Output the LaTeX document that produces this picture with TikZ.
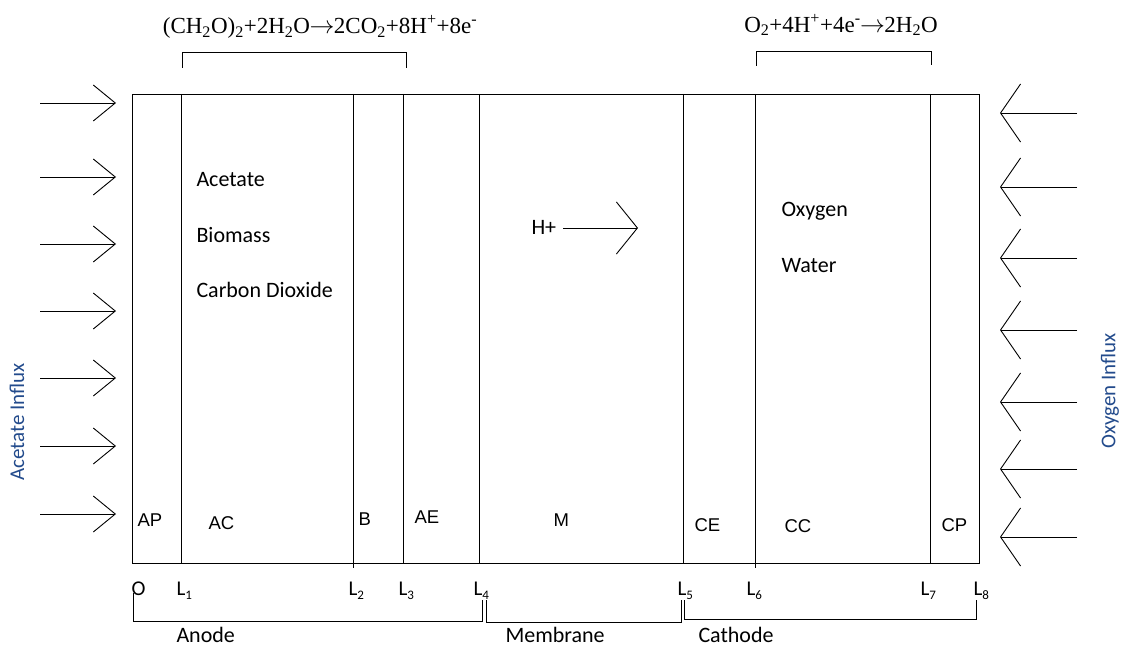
\documentclass[tikz,border=0pt]{standalone}
\usepackage{fontspec}
\setmainfont{Carlito}
\newfontfamily\arialf{Liberation Sans}
\newfontfamily\timesf{Liberation Serif}
\usetikzlibrary{arrows.meta}
\definecolor{influx}{RGB}{35,75,140}
\newcommand{\Lsub}[1]{L\raisebox{-0.4ex}{\fontsize{13}{13}\selectfont #1}}
\newcommand{\rxarrow}{\kern-0.5pt$\rightarrow$\kern-0.5pt}
\begin{document}
\begin{tikzpicture}[x=1pt,y=-1pt,line width=1pt,
  txt/.style={font=\fontsize{22}{22}\selectfont,anchor=base west,inner sep=0pt},
  reg/.style={font=\arialf\fontsize{18.5}{18.5}\selectfont,anchor=base west,inner sep=0pt},
  llab/.style={font=\fontsize{21}{21}\selectfont,anchor=base west,inner sep=0pt},
  eqn/.style={font=\timesf\fontsize{23}{23}\selectfont,inner sep=0pt},
  side/.style={font=\fontsize{21}{21}\selectfont,text=influx,rotate=90,inner sep=0pt},
  inleft/.style={-{Straight Barb[length=22pt,width=36pt,line width=0.9pt]},line width=0.9pt},
  inright/.style={-{Straight Barb[length=20pt,width=58pt,line width=0.9pt]},line width=0.9pt},
  hplus/.style={-{Straight Barb[length=21pt,width=52pt,line width=0.9pt]},line width=0.9pt},
  bracket/.style={line width=0.9pt}]
\useasboundingbox (0,0) rectangle (1121,647);

% cell box and layers
\node[draw,inner sep=0pt,minimum width=847pt,minimum height=469pt,anchor=north west] (box) at (132,94) {};
\foreach \x/\b in {181/563,353/568,403/563,479/563,683/563,755/568,930/563}
  \draw (\x,94) -- (\x,\b);

% reactions
\node[eqn] (eqa) at (320,27) {(CH\textsubscript{2}O)\textsubscript{2}+2H\textsubscript{2}O\rxarrow 2CO\textsubscript{2}+8H\textsuperscript{+}+8e\textsuperscript{-}};
\node[eqn] (eqc) at (841,25) {O\textsubscript{2}+4H\textsuperscript{+}+4e\textsuperscript{-}\rxarrow 2H\textsubscript{2}O};
\coordinate (ba1) at (182,68); \coordinate (ba2) at (182,52); \coordinate (ba3) at (406,52); \coordinate (ba4) at (406,68);
\draw[bracket] (ba1) -- (ba2) -- (ba3) -- (ba4);
\coordinate (bc1) at (756,66); \coordinate (bc2) at (756,51); \coordinate (bc3) at (931,51); \coordinate (bc4) at (931,65);
\draw[bracket] (bc1) -- (bc2) -- (bc3) -- (bc4);

% species
\node[txt] (ace) at (196,187) {Acetate};
\node[txt] (bio) at (196,242) {Biomass};
\node[txt] (co2) at (196,297) {Carbon Dioxide};
\node[txt] (oxy) at (781,216) {Oxygen};
\node[txt] (wat) at (781,272) {Water};

% proton flux
\node[txt] (hp) at (531,234) {H+};
\coordinate (hpa) at (563,228); \coordinate (hpb) at (638,228);
\draw[hplus] (hpa) -- (hpb);

% influx arrows
\foreach \y [count=\i] in {103,177,244,311,378,446,514}{
  \coordinate (la\i) at (40,\y); \coordinate (lb\i) at (116,\y);
  \draw[inleft] (la\i) -- (lb\i);}
\foreach \y [count=\i] in {113,187,258,330,402,469,537}{
  \coordinate (ra\i) at (1077,\y); \coordinate (rb\i) at (1000,\y);
  \draw[inright] (ra\i) -- (rb\i);}
\node[side] (acin) at (17,422) {Acetate Influx};
\node[side] (oxin) at (1110,391) {Oxygen Influx};

% region labels
\node[reg] (AP) at (137,526) {AP};
\node[reg] (AC) at (208,529) {AC};
\node[reg] (B)  at (358,525) {B};
\node[reg] (AE) at (414,523) {AE};
\node[reg] (M)  at (553,526) {M};
\node[reg] (CE) at (694,531) {CE};
\node[reg] (CC) at (784,532) {CC};
\node[reg] (CP) at (941,531) {CP};

% positions
\node[llab] (O)  at (131,595) {O};
\node[llab] (L1) at (176,595) {\Lsub{1}};
\node[llab] (L2) at (348,595) {\Lsub{2}};
\node[llab] (L3) at (398,595) {\Lsub{3}};
\node[llab] (L4) at (473,595) {\Lsub{4}};
\node[llab] (L5) at (677,595) {\Lsub{5}};
\node[llab] (L6) at (746,595) {\Lsub{6}};
\node[llab] (L7) at (920,595) {\Lsub{7}};
\node[llab] (L8) at (973,595) {\Lsub{8}};

% domain brackets
\coordinate (an1) at (133,593); \coordinate (an2) at (133,621); \coordinate (an3) at (482,621); \coordinate (an4) at (482,600);
\draw[bracket] (an1) -- (an2) -- (an3) -- (an4);
\coordinate (me1) at (486,600); \coordinate (me2) at (486,622); \coordinate (me3) at (681,622); \coordinate (me4) at (681,600);
\draw[bracket] (me1) -- (me2) -- (me3) -- (me4);
\coordinate (ca1) at (684,600); \coordinate (ca2) at (684,619); \coordinate (ca3) at (976,619); \coordinate (ca4) at (976,600);
\draw[bracket] (ca1) -- (ca2) -- (ca3) -- (ca4);
\node[txt] (anode) at (176,642) {Anode};
\node[txt] (memb) at (505,642) {Membrane};
\node[txt] (cath) at (698,642) {Cathode};
\end{tikzpicture}
\end{document}
